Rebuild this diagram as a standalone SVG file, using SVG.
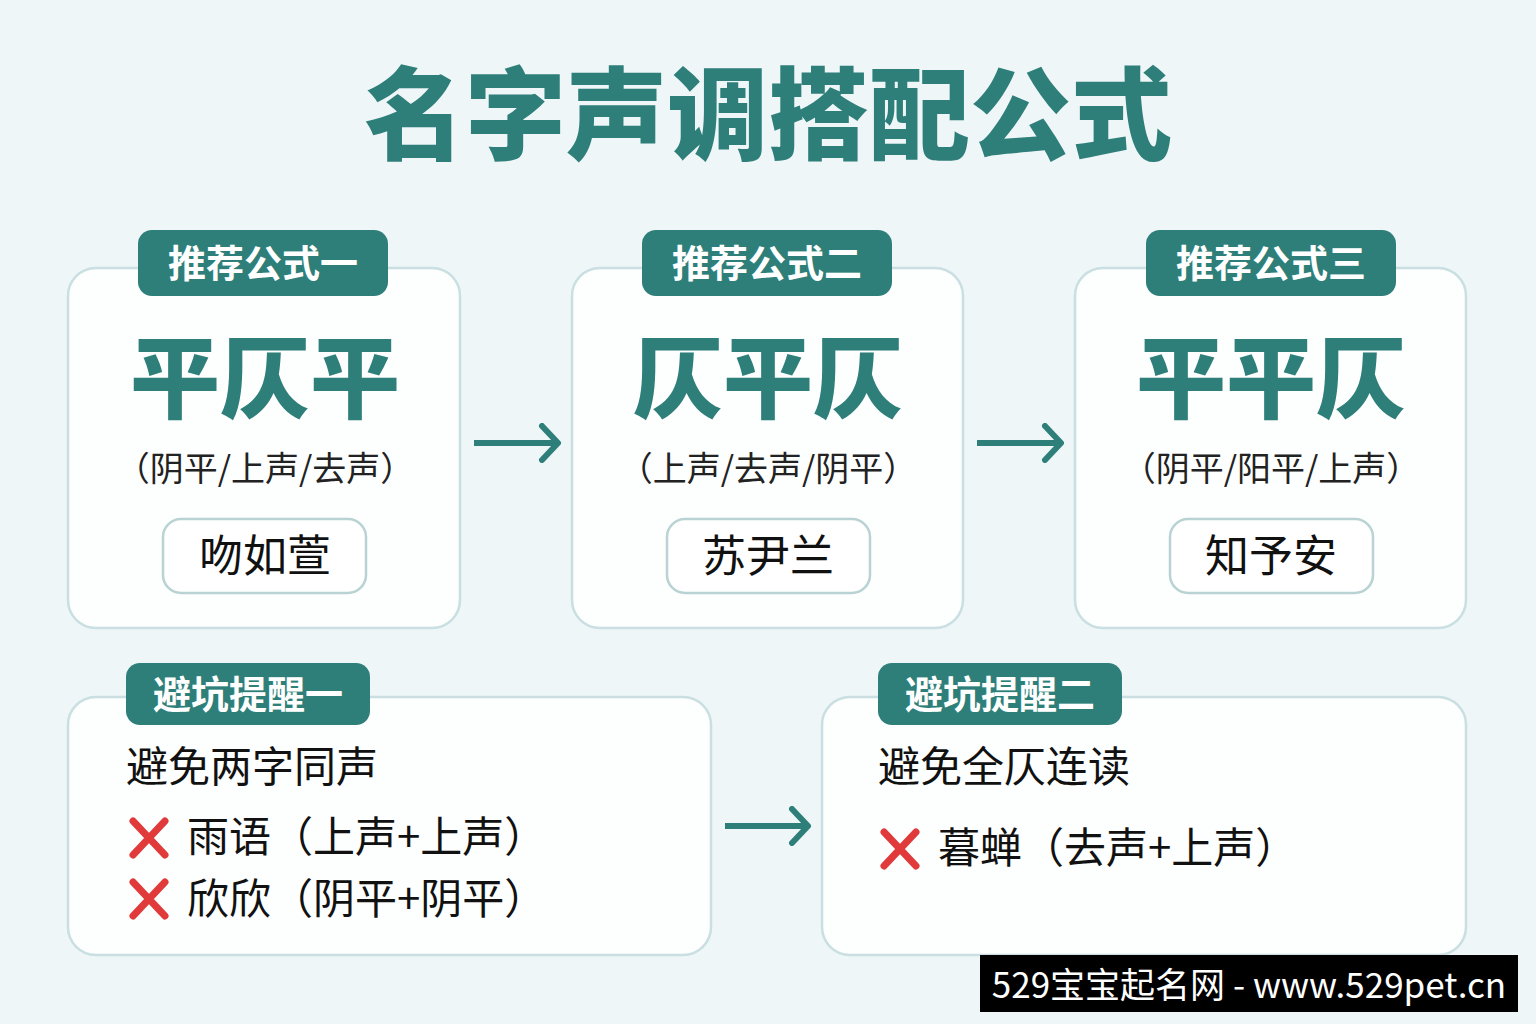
<svg xmlns="http://www.w3.org/2000/svg" width="1536" height="1024" viewBox="0 0 1536 1024">
<defs>
<marker id="ah" viewBox="0 0 24 40" refX="20" refY="20" markerWidth="24" markerHeight="40" markerUnits="userSpaceOnUse" orient="auto"><path d="M4 3 L20 20 L4 37" fill="none" stroke="#2e7f7a" stroke-width="6" stroke-linecap="round" stroke-linejoin="round"/></marker>
</defs>
<style>
text{font-family:"Noto Sans CJK SC","Noto Sans",sans-serif;}
.card{fill:#fdfefe;stroke:#c9dfe1;stroke-width:2.5;}
.tag{fill:#2e7f7a;}
.tagt{fill:#fff;font-size:38px;font-weight:700;text-anchor:middle;}
.big{fill:#2e7f7a;font-size:90px;font-weight:900;text-anchor:middle;}
.sub{fill:#222;font-size:34px;text-anchor:middle;}
.pill{fill:#fff;stroke:#b9d2d4;stroke-width:2.5;}
.name{fill:#111;font-size:44px;text-anchor:middle;}
.body{fill:#111;font-size:42px;}
.x{stroke:#e03a3a;stroke-width:7;stroke-linecap:round;}
.conn{stroke:#2e7f7a;stroke-width:6;fill:none;marker-end:url(#ah);}
</style>
<rect width="1536" height="1024" fill="#eef6f8"/>
<text x="768" y="152" text-anchor="middle" font-size="101" font-weight="900" fill="#2e7f7a">名字声调搭配公式</text>
<g id="f1">
<rect class="card" x="68" y="268" width="392" height="360" rx="28"/>
<rect class="tag" x="138" y="230" width="250" height="66" rx="14"/>
<text class="tagt" x="263" y="277">推荐公式一</text>
<text class="big" x="265" y="411">平仄平</text>
<text class="sub" x="265" y="481">（阴平/上声/去声）</text>
<rect class="pill" x="163" y="519" width="203" height="74" rx="18"/>
<text class="name" x="265" y="572">吻如萱</text>
</g>
<g id="f2">
<rect class="card" x="572" y="268" width="391" height="360" rx="28"/>
<rect class="tag" x="642" y="230" width="250" height="66" rx="14"/>
<text class="tagt" x="767" y="277">推荐公式二</text>
<text class="big" x="768" y="411">仄平仄</text>
<text class="sub" x="768" y="481">（上声/去声/阴平）</text>
<rect class="pill" x="667" y="519" width="203" height="74" rx="18"/>
<text class="name" x="768" y="572">苏尹兰</text>
</g>
<g id="f3">
<rect class="card" x="1075" y="268" width="391" height="360" rx="28"/>
<rect class="tag" x="1146" y="230" width="250" height="66" rx="14"/>
<text class="tagt" x="1271" y="277">推荐公式三</text>
<text class="big" x="1271" y="411">平平仄</text>
<text class="sub" x="1271" y="481">（阴平/阳平/上声）</text>
<rect class="pill" x="1170" y="519" width="203" height="74" rx="18"/>
<text class="name" x="1271" y="572">知予安</text>
</g>
<g id="w1">
<rect class="card" x="68" y="697" width="643" height="258" rx="28"/>
<rect class="tag" x="126" y="663" width="244" height="62" rx="14"/>
<text class="tagt" x="248" y="708">避坑提醒一</text>
<text class="body" x="126" y="782">避免两字同声</text>
<path class="x" d="M133 821 L165 855 M165 821 L133 855"/>
<text class="body" x="187" y="852">雨语（上声+上声）</text>
<path class="x" d="M133 882 L165 916 M165 882 L133 916"/>
<text class="body" x="187" y="914">欣欣（阴平+阴平）</text>
</g>
<g id="w2">
<rect class="card" x="822" y="697" width="644" height="258" rx="28"/>
<rect class="tag" x="878" y="663" width="244" height="62" rx="14"/>
<text class="tagt" x="1000" y="708">避坑提醒二</text>
<text class="body" x="878" y="782">避免全仄连读</text>
<path class="x" d="M884 832 L916 866 M916 832 L884 866"/>
<text class="body" x="938" y="863">暮蝉（去声+上声）</text>
</g>
<g id="connectors">
<path class="conn" d="M474 443 L558 443"/>
<path class="conn" d="M977 443 L1061 443"/>
<path class="conn" d="M725 826 L808 826"/>
</g>
<rect x="980" y="955" width="538" height="57" fill="#000"/>
<text x="1249" y="998" text-anchor="middle" font-size="35" fill="#fff">529宝宝起名网 - www.529pet.cn</text>
</svg>
